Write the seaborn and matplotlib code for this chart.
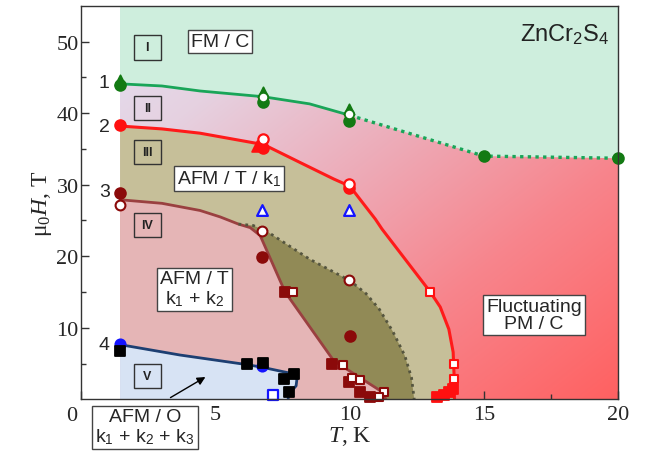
import numpy as np
import pandas as pd
import matplotlib
matplotlib.use("Agg")
import matplotlib.pyplot as plt
import seaborn as sns
from matplotlib.colors import LinearSegmentedColormap
from matplotlib.patches import Rectangle

# ---------------- data ----------------
t_start = 1.44
x_max, y_max = 20, 55
xtick_vals = [0, 5, 10, 15, 20]
xtick_labels = ["0", "5", "10", "15", "20"]
ytick_vals = [10, 20, 30, 40, 50]
ytick_labels = ["10", "20", "30", "40", "50"]

# phase boundaries
green_solid_T = [1.44, 3.0, 4.42, 6.77, 8.5, 10.0]
green_solid_H = [44.1, 43.8, 43.1, 42.3, 41.3, 39.7]
green_dot_T = [10.0, 15.0, 20.0]
green_dot_H = [39.7, 34.0, 33.7]

red_T = [1.44, 3.0, 4.42, 6.8, 8.15, 9.4, 10.0, 10.95, 11.2, 13.0, 13.37, 13.69, 13.85, 13.9, 13.9]
red_H = [38.2, 37.8, 37.2, 35.6, 33.1, 30.8, 29.8, 25.2, 23.8, 15.0, 12.9, 9.8, 6.6, 2.0, 0.0]

brown_T = [1.44, 3.0, 4.42, 5.17, 5.85, 6.29, 6.66, 7.59, 9.40, 11.14, 11.35]
brown_H = [27.9, 27.4, 26.4, 25.5, 24.5, 24.0, 22.9, 15.0, 5.4, 1.2, 0.0]

dotted_T = [5.85, 6.4, 6.9, 7.6, 8.5, 9.4, 10.0, 10.6, 11.1, 11.6, 12.05, 12.3, 12.4]
dotted_H = [24.5, 24.3, 23.5, 21.8, 19.6, 17.8, 16.6, 14.8, 12.6, 9.5, 6.1, 3.0, 0.0]

blue_T = [1.44, 3.67, 6.16, 6.72, 7.78, 8.03, 8.0, 7.84, 7.72, 7.7]
blue_H = [7.65, 6.2, 4.86, 4.5, 3.66, 2.86, 1.9, 1.2, 0.5, 0.0]

# measured points
green_fc_T = [1.44, 6.77, 9.98, 15.0, 20.0]
green_fc_H = [44.0, 41.5, 38.9, 34.0, 33.7]
green_tri_T = [1.44, 6.77, 9.98]
green_tri_H = [44.7, 42.9, 40.6]
green_oc_T = [6.77, 9.98]
green_oc_H = [42.2, 39.9]

red_fc_T = [1.44, 6.77, 9.98]
red_fc_H = [38.3, 35.1, 29.5]
red_tri_T = [6.55]
red_tri_H = [35.4]
red_oc_T = [6.77, 9.98]
red_oc_H = [36.4, 30.1]
red_os_T = [13.0, 13.87, 13.87]
red_os_H = [15.0, 4.9, 2.9]
red_fs_T = [13.25, 13.5, 13.7, 13.85]
red_fs_H = [0.4, 0.6, 1.0, 1.5]

dred_fc_T = [1.44, 6.72, 10.0]
dred_fc_H = [28.8, 19.9, 8.9]
dred_oc_T = [1.44, 6.72, 9.96]
dred_oc_H = [27.1, 23.5, 16.7]
dred_fs_T = [7.6, 9.33, 9.98, 10.37, 10.77]
dred_fs_H = [15.0, 5.0, 2.4, 1.0, 0.3]
dred_os_T = [7.9, 9.75, 10.1, 10.37, 11.26, 11.1]
dred_os_H = [15.0, 4.8, 3.0, 2.7, 1.0, 0.3]

blue_otri_T = [6.72, 9.98]
blue_otri_H = [26.5, 26.5]
blue_fc_T = [1.44, 6.73]
blue_fc_H = [7.8, 4.7]
blue_os_T = [7.13]
blue_os_H = [0.6]

black_fs_T = [1.44, 6.16, 6.75, 7.55, 7.93, 7.72]
black_fs_H = [6.8, 4.9, 5.1, 2.9, 3.5, 1.0]

line_labels = ["1", "2", "3", "4"]
roman_labels = ["I", "II", "III", "IV", "V"]

# ---------------- style ----------------
sns.set_theme(style="white")
plt.rcParams["font.family"] = ["Liberation Sans", "DejaVu Sans"]
plt.rcParams["mathtext.fontset"] = "custom"
plt.rcParams["mathtext.rm"] = "Liberation Serif"
plt.rcParams["mathtext.it"] = "Liberation Serif:italic"
plt.rcParams["mathtext.sf"] = "Liberation Sans"

fig, ax = plt.subplots(figsize=(6.46, 4.56), dpi=100)
fig.subplots_adjust(left=0.126, right=0.957, bottom=0.122, top=0.985)

# background gradient (region II / PM)
cmap = LinearSegmentedColormap.from_list(
    "grad",
    [(0.0, (0.89, 0.88, 0.95)), (0.2, (0.90, 0.82, 0.88)), (0.45, (0.93, 0.67, 0.72)),
     (0.7, (0.97, 0.52, 0.55)), (1.0, (1.0, 0.38, 0.38))])
u = np.linspace(0, 1, 300)
v = np.linspace(0, 1, 300)
U, V = np.meshgrid(u, v)
S = (U + (1 - V)) / 2
ax.imshow(S, extent=[t_start, x_max, 0, y_max], origin="lower", aspect="auto",
          cmap=cmap, vmin=0, vmax=1, zorder=0, interpolation="bilinear")

# region fills
gx = green_solid_T + green_dot_T[1:]
gy = green_solid_H + green_dot_H[1:]
ax.fill(gx + [x_max, t_start], gy + [y_max, y_max], color="#ceeedd", lw=0, zorder=1)
ax.fill(red_T + [t_start], red_H + [0], color="#c6bf99", lw=0, zorder=1.1)
ax.fill(dotted_T + [dotted_T[0]], dotted_H + [0], color="#918a56", lw=0, zorder=1.2)
ax.fill(brown_T + [t_start], brown_H + [0], color="#e5b5b6", lw=0, zorder=1.3)
ax.fill(blue_T + [t_start], blue_H + [0], color="#d7e3f4", lw=0, zorder=1.4)

# boundary lines
def line(x, y, color, **kw):
    sns.lineplot(x=x, y=y, sort=False, estimator=None, color=color, ax=ax, zorder=3, **kw)

line(green_solid_T, green_solid_H, "#19a558", lw=2)
line(green_dot_T, green_dot_H, "#19a558", lw=2.4, linestyle=(0, (1, 1.3)))
line(red_T, red_H, "#ff1a1a", lw=2.2)
line(brown_T, brown_H, "#9a4040", lw=2)
line(dotted_T, dotted_H, "#55553f", lw=2, linestyle=(0, (1, 1.5)))
line(blue_T, blue_H, "#1d3f72", lw=2)

# markers
def pts(x, y, marker, face, edge, s=55, lw=1.3, z=4):
    sns.scatterplot(x=x, y=y, marker=marker, s=s, color=face, edgecolor=edge,
                    linewidth=lw, ax=ax, zorder=z, clip_on=False, legend=False)

gcol, rcol, dcol, bcol = "#137a13", "#ff1010", "#8b0a0a", "#1414ff"
pts(green_tri_T, green_tri_H, "^", gcol, gcol, s=55)
pts(green_fc_T, green_fc_H, "o", gcol, gcol, s=60)
pts(green_oc_T, green_oc_H, "o", "white", gcol, s=45)
pts(red_tri_T, red_tri_H, "^", rcol, rcol, s=60)
pts(red_fc_T, red_fc_H, "o", rcol, rcol, s=60)
pts(red_oc_T, red_oc_H, "o", "white", rcol, s=55, lw=1.6)
pts(red_fs_T, red_fs_H, "s", rcol, rcol, s=45)
pts(red_os_T, red_os_H, "s", "white", rcol, s=40, lw=1.5)
pts(dred_fc_T, dred_fc_H, "o", dcol, dcol, s=60)
pts(dred_oc_T, dred_oc_H, "o", "white", dcol, s=50, lw=1.5)
pts(dred_fs_T, dred_fs_H, "s", dcol, dcol, s=50)
pts(dred_os_T, dred_os_H, "s", "white", dcol, s=40, lw=1.5)
pts(blue_otri_T, blue_otri_H, "^", "white", bcol, s=60, lw=1.6)
pts(blue_fc_T, blue_fc_H, "o", bcol, bcol, s=55)
pts(blue_os_T, blue_os_H, "s", "white", bcol, s=45, lw=1.6)
pts(black_fs_T, black_fs_H, "s", "black", "black", s=55)

# axes
ax.set_xlim(0, x_max)
ax.set_ylim(0, y_max)
ax.set_xticks(xtick_vals)
ax.set_xticklabels([""] + xtick_labels[1:], fontfamily="Liberation Serif", fontsize=16)
ax.annotate(xtick_labels[0], xy=(0, 0), xycoords="data", xytext=(-7, -5),
            textcoords="offset points", ha="center", va="top",
            fontfamily="Liberation Serif", fontsize=16, annotation_clip=False)
ax.set_yticks(ytick_vals)
ax.set_yticklabels(ytick_labels, fontfamily="Liberation Serif", fontsize=16)
ax.set_xticks(np.arange(2.5, 20, 5), minor=True)
ax.set_yticks(np.arange(5, 55, 10), minor=True)
ax.tick_params(axis="both", which="major", direction="in", length=6, width=1,
               color="#333333", bottom=True, left=True)
ax.tick_params(axis="both", which="minor", direction="in", length=3.5, width=1,
               color="#333333", bottom=True, left=True)
ax.tick_params(axis="x", pad=4)
ax.tick_params(axis="y", pad=2)
for sp in ax.spines.values():
    sp.set_visible(True)
    sp.set_color("#333333")
    sp.set_linewidth(1)
    sp.set_zorder(6)

ax.set_xlabel("$T$, K", fontsize=17, fontfamily="Liberation Serif", labelpad=0)
ax.set_ylabel("μ$_0$$H$, T", fontsize=17, fontfamily="Liberation Serif", labelpad=2)

# boundary numbers
for lab, h in zip(line_labels, [44.3, 38.2, 29.0, 7.6]):
    ax.text(0.85, h, lab, ha="center", va="center", fontsize=14, zorder=5)

# roman numeral boxes
for lab, h in zip(roman_labels, [49.2, 40.7, 34.6, 24.4, 3.3]):
    ax.add_patch(Rectangle((2.45 - 0.5, h - 1.7), 1.0, 3.4, fill=False,
                           ec="#333333", lw=1, zorder=5))
    ax.text(2.45, h, lab, ha="center", va="center", fontsize=9, fontweight="bold",
            color="#222222", zorder=5)

box = dict(boxstyle="square,pad=0.15", fc="white", ec="#444444", lw=1)
ax.text(5.17, 50.0, "FM / C", ha="center", va="center", fontsize=14, bbox=box, zorder=5)
ax.text(5.49, 30.9, "AFM / T / k$_\\mathsf{1}$", ha="center", va="center", fontsize=14,
        bbox=box, zorder=5)
ax.text(4.22, 15.4, "AFM / T\nk$_\\mathsf{1}$ + k$_\\mathsf{2}$", ha="center", va="center",
        fontsize=14, linespacing=1.1, bbox=box, zorder=5)
ax.text(16.86, 11.8, "Fluctuating\nPM / C", ha="center", va="center", fontsize=14,
        linespacing=1.05, bbox=box, zorder=5)
ax.text(2.37, -3.9, "AFM / O\nk$_\\mathsf{1}$ + k$_\\mathsf{2}$ + k$_\\mathsf{3}$",
        ha="center", va="center", fontsize=14, linespacing=1.1, bbox=box, zorder=7,
        clip_on=False)
ax.annotate("", xy=(4.71, 3.32), xytext=(3.23, 0.05),
            arrowprops=dict(arrowstyle="-|>", color="black", lw=1, mutation_scale=12),
            zorder=5)
ax.text(19.65, 50.1, "ZnCr$_\\mathsf{2}$S$_\\mathsf{4}$", ha="right", va="baseline",
        fontsize=17, color="#222222", zorder=5)

fig.savefig("out.png", dpi=100)
